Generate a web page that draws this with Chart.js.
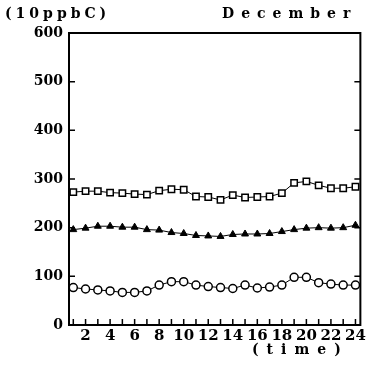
<!DOCTYPE html>
<html>
<head>
<meta charset="utf-8">
<script src="https://cdn.jsdelivr.net/npm/chart.js"></script>
<style>
  html, body { margin: 0; padding: 0; background: #fff; }
</style>
</head>
<body>
<canvas id="chart" width="368" height="365"></canvas>
<script>
// hourly values, December (unit 10 ppbC)
const hours = [1, 2, 3, 4, 5, 6, 7, 8, 9, 10, 11, 12, 13, 14, 15, 16, 17, 18, 19, 20, 21, 22, 23, 24];
const squares = [273, 275, 275, 272, 271, 269, 268, 276, 279, 278, 264, 263, 257, 267, 262, 263, 264, 271, 292, 295, 287, 281, 281, 284];
const triangles = [196, 199, 203, 203, 201, 201, 196, 195, 190, 188, 184, 183, 182, 186, 187, 187, 188, 192, 196, 199, 200, 199, 200, 205];
const circles = [77, 74, 72, 70, 67, 67, 70, 82, 89, 89, 82, 79, 77, 75, 82, 76, 78, 82, 98, 98, 87, 84, 82, 82];
const yTicks = [0, 100, 200, 300, 400, 500, 600];

var fnt = '"DejaVu Serif", serif';

// frame, inner tick marks and the header texts
const frame = {
    id: 'frame',
    afterDraw(chart) {
        const ctx = chart.ctx;
        const a = chart.chartArea;
        const x = chart.scales.x, y = chart.scales.y;
        ctx.save();
        ctx.strokeStyle = '#000';
        ctx.lineWidth = 2;
        ctx.strokeRect(a.left, a.top, a.right - a.left, a.bottom - a.top);
        ctx.lineWidth = 1.5;
        ctx.beginPath();
        hours.forEach(h => {
            const px = x.getPixelForValue(h);
            ctx.moveTo(px, a.bottom);
            ctx.lineTo(px, a.bottom - 6);
        });
        yTicks.forEach(v => {
            const py = y.getPixelForValue(v);
            ctx.moveTo(a.left, py);
            ctx.lineTo(a.left + 6, py);
            ctx.moveTo(a.right, py);
            ctx.lineTo(a.right - 6, py);
        });
        ctx.stroke();

        ctx.fillStyle = '#000';
        ctx.font = 'bold 14px ' + fnt;
        ctx.textBaseline = 'alphabetic';
        ctx.textAlign = 'left';
        ctx.letterSpacing = '4px';
        ctx.fillText('(10ppbC)', 5, 18);
        ctx.letterSpacing = '7px';
        ctx.fillText('December', 222, 18);
        ctx.letterSpacing = '8px';
        ctx.fillText('(time)', 252, 354);
        ctx.restore();
    }
};

var config = {
    type: 'line',
    data: {
        datasets: [{
            label: 'squares',
            data: hours.map((h, i) => ({ x: h, y: squares[i] })),
            borderColor: '#000',
            borderWidth: 1,
            pointStyle: 'rect',
            pointRadius: 4.5,
            pointBackgroundColor: '#fff',
            pointBorderColor: '#000',
            pointBorderWidth: 1.5
        }, {
            label: 'triangles',
            data: hours.map((h, i) => ({ x: h, y: triangles[i] })),
            borderColor: '#000',
            borderWidth: 1,
            pointStyle: 'triangle',
            pointRadius: 4,
            pointBackgroundColor: '#000',
            pointBorderColor: '#000',
            pointBorderWidth: 1
        }, {
            label: 'circles',
            data: hours.map((h, i) => ({ x: h, y: circles[i] })),
            borderColor: '#000',
            borderWidth: 1,
            pointStyle: 'circle',
            pointRadius: 4,
            pointBackgroundColor: '#fff',
            pointBorderColor: '#000',
            pointBorderWidth: 1.5
        }]
    },
    options: {
        responsive: false,
        animation: false,
        layout: { padding: { left: 0, top: 33, right: 6, bottom: 0 } },
        plugins: { legend: { display: false }, tooltip: { enabled: false } },
        scales: {
            x: {
                type: 'linear',
                min: 0.65,
                max: 24.4,
                afterBuildTicks: s => { s.ticks = hours.map(v => ({ value: v })); },
                afterFit: s => { s.height = 40; },
                grid: { display: false, drawTicks: false },
                border: { display: false },
                ticks: {
                    autoSkip: false,
                    maxRotation: 0,
                    padding: 2,
                    color: '#000',
                    font: { family: fnt, size: 15, weight: 'bold' },
                    callback: v => (v % 2 === 0 ? String(v) : '')
                }
            },
            y: {
                min: 0,
                max: 600,
                afterBuildTicks: s => { s.ticks = yTicks.map(v => ({ value: v })); },
                afterFit: s => { s.width = 69; },
                grid: { display: false, drawTicks: false },
                border: { display: false },
                ticks: {
                    padding: 6,
                    color: '#000',
                    font: { family: fnt, size: 14, weight: 'bold' }
                }
            }
        }
    },
    plugins: [frame]
};

var chart = new Chart(document.getElementById('chart'), config);
</script>
</body>
</html>
